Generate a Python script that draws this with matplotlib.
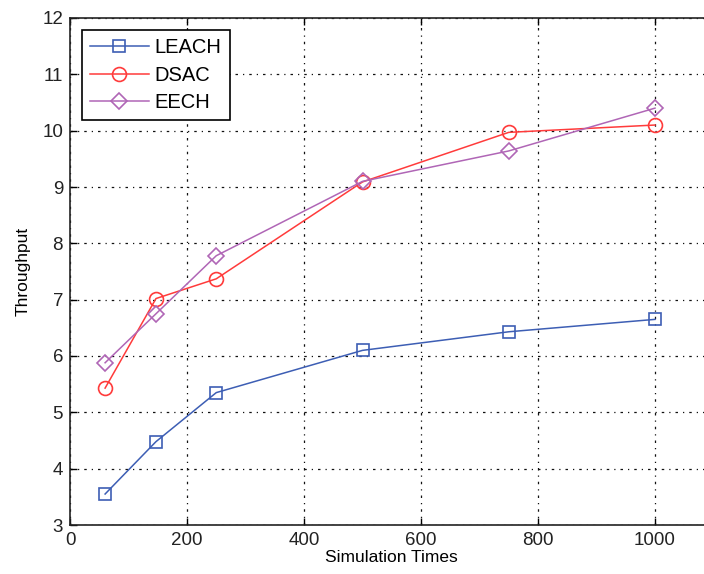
import numpy as np
import matplotlib.pyplot as plt

plt.rcParams['font.family'] = ['Liberation Sans', 'DejaVu Sans']

# simulation times (x) and throughput of each protocol
sim_times = [60, 147, 250, 500, 750, 1000]
leach = [3.55, 4.48, 5.35, 6.1, 6.43, 6.65]
dsac = [5.43, 7.02, 7.37, 9.09, 9.97, 10.1]
eech = [5.88, 6.75, 7.78, 9.1, 9.64, 10.4]

fig = plt.figure(figsize=(7.04, 5.74), dpi=100)
# axes runs past the right edge of the figure like the cropped original
ax = fig.add_axes([70 / 704, 49 / 574, 643.5 / 704, 507 / 574])

ax.plot(sim_times, leach, '-s', color='#3d5eb4', mfc='none', ms=8.5, lw=1.1, mew=1.2, label='LEACH')
ax.plot(sim_times, dsac, '-o', color='#ff3b3b', mfc='none', ms=10, lw=1.1, mew=1.2, label='DSAC')
ax.plot(sim_times, eech, '-D', color='#b066b6', mfc='none', ms=8.5, lw=1.1, mew=1.2, label='EECH')

ax.set_xlim(0, 1100)
ax.set_ylim(3, 12)
ax.set_xticks([0, 200, 400, 600, 800, 1000])
ax.set_yticks(np.arange(3, 13, 1))
ax.tick_params(direction='in', top=True, right=True, length=5, width=1,
               labelsize=13.5, pad=5, labelcolor='#222222')
ax.grid(True, color='#111111', linestyle=(0, (2, 4, 1, 4)), linewidth=0.9)
for s in ax.spines.values():
    s.set_linewidth(1.2)
    s.set_color('#222222')

ax.set_xlabel('Simulation Times', fontsize=12.5, labelpad=1)
ax.set_ylabel('Throughput', fontsize=12.5, labelpad=8)

leg = ax.legend(loc='upper left', fontsize=14.5, handlelength=2.9, fancybox=False,
                edgecolor='black', framealpha=1, borderaxespad=0.6,
                labelspacing=0.42, borderpad=0.4, handletextpad=0.3)
leg.get_frame().set_linewidth(1.2)

fig.savefig('out.png', dpi=100)
